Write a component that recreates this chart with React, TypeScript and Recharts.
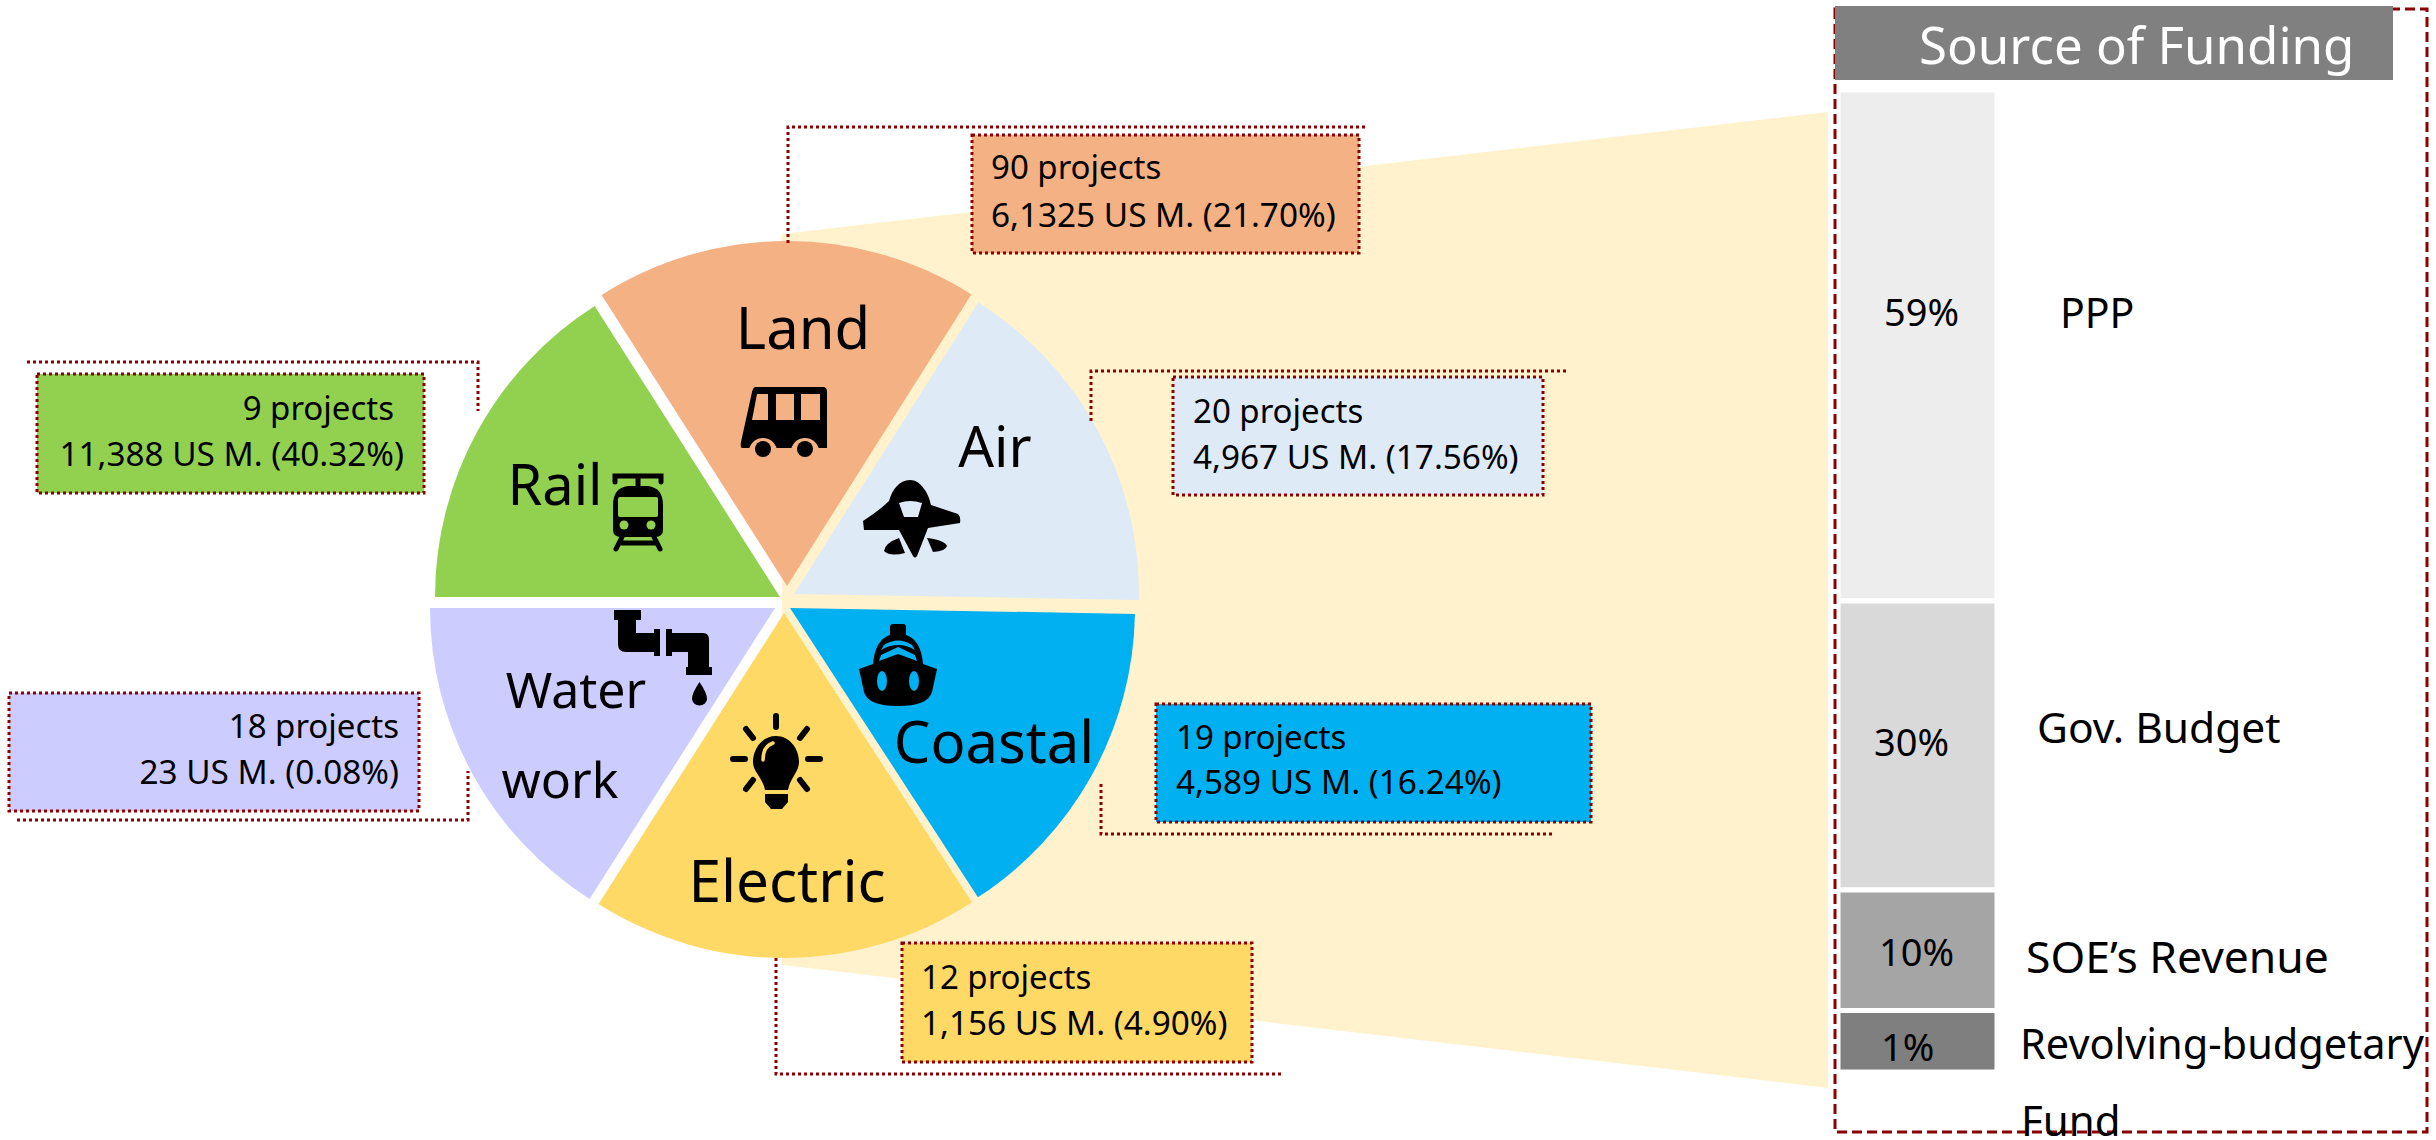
import { Bar, BarChart, Cell, Pie, PieChart, XAxis, YAxis } from 'recharts'

// Slices are drawn near-equal in the reference, whatever the amounts in the callouts say,
// so the pie is driven by the share of the circle each slice covers in the picture.
const SECTORS = ['Land', 'Rail', 'Water', 'Electric', 'Coastal', 'Air']
const SECTOR_SHARES = [18.0, 15.97, 15.97, 18.2, 15.56, 16.3]
const PROJECT_COUNTS = ['90 projects', '9 projects', '18 projects', '12 projects', '19 projects', '20 projects']
const AMOUNTS = [
  '6,1325 US M. (21.70%)',
  '11,388 US M. (40.32%)',
  '23 US M. (0.08%)',
  '1,156 US M. (4.90%)',
  '4,589 US M. (16.24%)',
  '4,967 US M. (17.56%)',
]

const FUNDING_SOURCES = ['PPP', 'Gov. Budget', 'SOE’s Revenue', 'Revolving-budgetary']
const FUNDING_PERCENT = ['59%', '30%', '10%', '1%']
// height share of each block in the picture (not to scale with the percent labels)
const FUNDING_SHARES = [52.04, 29.43, 12.27, 6.26]

const SECTOR_COLORS = ['#F4B183', '#92D050', '#CCCCFF', '#FFD966', '#00B0F0', '#DEEAF6']
const FUNDING_COLORS = ['#EDEDED', '#D9D9D9', '#A5A5A5', '#7F7F7F']
const RED = '#8B0000'
const FONT = '"Noto Sans", sans-serif'

const WIDTH = 2436
const HEIGHT = 1140

// exploded pie: each slice has its own apex
const APEX = [
  [787, 586],
  [780, 597],
  [775, 608],
  [784, 613],
  [790, 608],
  [794, 594],
]

const pieData = SECTORS.map((name, i) => ({ name, value: SECTOR_SHARES[i] }))
const fundingRow = [
  Object.fromEntries(FUNDING_SOURCES.map((name, i) => [name, FUNDING_SHARES[i]])),
]

// box: x, y, w, h; x/base: anchor x and baseline of each text line
const CALLOUTS = [
  { box: [972, 135, 387, 118], x: [991, 991], base: [179, 227], anchor: 'start', line: [788, 243, 788, 127, 1366, 127] },
  { box: [37, 374, 387, 119], x: [394, 404], base: [420, 466], anchor: 'end', line: [27, 362, 478, 362, 478, 411] },
  { box: [9, 693, 410, 118], x: [399, 399], base: [738, 784], anchor: 'end', line: [17, 820, 468, 820, 468, 771] },
  { box: [902, 943, 350, 119], x: [921, 921], base: [989, 1035], anchor: 'start', line: [776, 958, 776, 1074, 1283, 1074] },
  { box: [1156, 704, 435, 118], x: [1176, 1176], base: [749, 794], anchor: 'start', line: [1101, 784, 1101, 834, 1553, 834] },
  { box: [1173, 377, 370, 118], x: [1193, 1193], base: [423, 469], anchor: 'start', line: [1091, 421, 1091, 371, 1566, 371] },
]

const SLICE_LABELS = [
  { text: 'Land', x: 803, y: 349, size: 58 },
  { text: 'Rail', x: 555, y: 505, size: 56 },
  { text: 'Water', x: 576, y: 708, size: 50 },
  { text: 'work', x: 560, y: 798, size: 50 },
  { text: 'Electric', x: 787, y: 902, size: 58.5 },
  { text: 'Coastal', x: 994, y: 763, size: 58 },
  { text: 'Air', x: 995, y: 467, size: 56 },
]

function BusIcon() {
  const bg = SECTOR_COLORS[0]
  return (
    <g>
      <path d="M756 387H823Q827 387 827 392V448H742Q740 448 741 442L752 392Q753 387 756 387Z" fill="#000" />
      <path d="M757 394H768V420H752Z" fill={bg} />
      <rect x={776} y={394} width={18} height={26} fill={bg} />
      <rect x={801} y={394} width={19} height={26} fill={bg} />
      <circle cx={763} cy={452} r={14} fill={bg} />
      <circle cx={805} cy={452} r={14} fill={bg} />
      <circle cx={763} cy={449} r={8} fill="#000" />
      <circle cx={805} cy={449} r={8} fill="#000" />
    </g>
  )
}

function PlaneIcon() {
  return (
    <g>
      <path
        d="M910 480C921 480 929 494 931 505L958 514Q961 517 960 523L928 528L917 556Q915 559 913 556L899 530L864 530L863 521Q880 510 889 501C892 490 899 480 910 480Z"
        fill="#000"
      />
      <path d="M899 503Q910 499 922 503L918 517H904Z" fill={SECTOR_COLORS[5]} />
      <path d="M884 551Q885 543 899 538L905 553Q890 557 884 551Z" fill="#000" />
      <path d="M927 538Q944 540 947 546Q946 551 933 552Z" fill="#000" />
    </g>
  )
}

function TrainIcon() {
  const bg = SECTOR_COLORS[1]
  return (
    <g>
      <path d="M615 482V476H661V482M638 476V488" stroke="#000" strokeWidth={5} fill="none" strokeLinecap="round" />
      <path d="M628 486H648Q663 488 663 505V530Q663 537 655 537H621Q613 537 613 530V505Q613 488 628 486Z" fill="#000" />
      <rect x={618} y={497} width={40} height={20} rx={2} fill={bg} />
      <circle cx={624} cy={525} r={4.5} fill={bg} />
      <circle cx={651} cy={525} r={4.5} fill={bg} />
      <path d="M622 537L616 549M654 537L660 549M620 543H656" stroke="#000" strokeWidth={5} fill="none" strokeLinecap="round" />
    </g>
  )
}

function FaucetIcon() {
  return (
    <g fill="#000">
      <rect x={614} y={610} width={27} height={10} />
      <path d="M618 620H636V633H654V652H626Q618 652 618 644Z" />
      <rect x={654} y={629} width={6} height={27} />
      <rect x={666} y={629} width={6} height={27} />
      <path d="M672 633H703Q709 633 709 640V667H688V652H672Z" />
      <rect x={686} y={667} width={26} height={8} />
      <path d="M699.5 682Q707 693 707 699A7.5 6.5 0 0 1 692 699Q692 693 699.5 682Z" />
    </g>
  )
}

function ShipIcon() {
  const bg = SECTOR_COLORS[4]
  return (
    <g>
      <path d="M890 635V627Q890 624 893 624H903Q906 624 906 627V635Q921 640 923 664L937 669L932 692Q928 706 898 706Q868 706 864 692L859 669L873 664Q875 640 890 635Z" fill="#000" />
      <path d="M884 645Q898 636 912 645L915 650Q898 640 881 650Z" fill={bg} />
      <path d="M881 655L898 647L915 655L917 661L898 654L879 661Z" fill={bg} />
      <ellipse cx={882} cy={681} rx={5} ry={10} fill={bg} />
      <ellipse cx={914} cy={681} rx={5} ry={10} fill={bg} />
    </g>
  )
}

function BulbIcon() {
  return (
    <g>
      <path d="M776 736C790 736 799 749 799 762C799 772 790 778 788 790H765C763 778 753 772 753 762C753 749 762 736 776 736Z" fill="#000" />
      <path d="M763 760Q763 746 773 743" stroke={SECTOR_COLORS[3]} strokeWidth={3.5} fill="none" strokeLinecap="round" />
      <path d="M765 794H788V802L782 809H771L765 802Z" fill="#000" />
      <path
        d="M776 716V727M746 729L753 738M807 729L800 738M733 759H745M808 759H820M746 789L753 780M807 789L800 780"
        stroke="#000"
        strokeWidth={6}
        strokeLinecap="round"
      />
    </g>
  )
}

function pathFrom(points: number[]) {
  let d = `M${points[0]} ${points[1]}`
  for (let i = 2; i < points.length; i += 2) d += `L${points[i]} ${points[i + 1]}`
  return d
}

export default function App() {
  const layer = { position: 'absolute', left: 0, top: 0 } as const

  return (
    <div style={{ position: 'absolute', left: 0, top: 0, width: WIDTH, height: HEIGHT, background: '#fff', overflow: 'hidden' }}>
      {/* zoom wedge from the pie to the funding column */}
      <svg width={WIDTH} height={HEIGHT} style={layer}>
        <polygon points="782,234 1828,112 1828,1088 782,965" fill="#FFF2CC" />
        <rect x={1835} y={9} width={592} height={1123} fill="#fff" stroke={RED} strokeWidth={3} strokeDasharray="10 5" />
        <rect x={1835} y={6} width={558} height={74} fill="#808080" />
      </svg>

      <div style={layer}>
        <PieChart width={WIDTH} height={HEIGHT} margin={{ top: 0, right: 0, bottom: 0, left: 0 }}>
          {SECTORS.map((name, i) => (
            <Pie
              key={name}
              data={pieData}
              dataKey="value"
              nameKey="name"
              cx={APEX[i][0]}
              cy={APEX[i][1]}
              innerRadius={0}
              outerRadius={345}
              startAngle={57.7}
              endAngle={417.7}
              stroke="none"
              isAnimationActive={false}
            >
              {SECTORS.map((other, j) => (
                <Cell key={other} fill={i === j ? SECTOR_COLORS[i] : 'none'} />
              ))}
            </Pie>
          ))}
        </PieChart>
      </div>

      <div style={{ ...layer, left: 1838, top: 89.5 }}>
        <BarChart width={159} height={982} data={fundingRow} margin={{ top: 0, right: 0, bottom: 0, left: 0 }} barCategoryGap={0}>
          <XAxis type="category" hide />
          <YAxis type="number" hide reversed domain={[0, 100]} />
          {FUNDING_SOURCES.map((name, i) => (
            <Bar key={name} dataKey={name} stackId="funding" fill={FUNDING_COLORS[i]} stroke="#fff" strokeWidth={5} isAnimationActive={false} />
          ))}
        </BarChart>
      </div>

      <svg width={WIDTH} height={HEIGHT} style={{ ...layer, fontFamily: FONT }}>
        {CALLOUTS.map((c, i) => (
          <g key={SECTORS[i]}>
            <path d={pathFrom(c.line)} fill="none" stroke={RED} strokeWidth={3} strokeDasharray="3 3" />
            <rect x={c.box[0]} y={c.box[1]} width={c.box[2]} height={c.box[3]} fill={SECTOR_COLORS[i]} stroke={RED} strokeWidth={3} strokeDasharray="3 3" />
            <text x={c.x[0]} y={c.base[0]} textAnchor={c.anchor as 'start' | 'end'} fontSize={33}>
              {PROJECT_COUNTS[i]}
            </text>
            <text x={c.x[1]} y={c.base[1]} textAnchor={c.anchor as 'start' | 'end'} fontSize={33.3}>
              {AMOUNTS[i]}
            </text>
          </g>
        ))}

        {SLICE_LABELS.map((l) => (
          <text key={l.text} x={l.x} y={l.y} textAnchor="middle" fontSize={l.size}>
            {l.text}
          </text>
        ))}

        <BusIcon />
        <PlaneIcon />
        <TrainIcon />
        <FaucetIcon />
        <ShipIcon />
        <BulbIcon />

        <text x={1919} y={64} fontSize={51} fill="#fff">
          Source of Funding
        </text>

        <text x={1884} y={326} fontSize={38}>{FUNDING_PERCENT[0]}</text>
        <text x={1874} y={756} fontSize={38}>{FUNDING_PERCENT[1]}</text>
        <text x={1879} y={966} fontSize={38}>{FUNDING_PERCENT[2]}</text>
        <text x={1881} y={1061} fontSize={38}>{FUNDING_PERCENT[3]}</text>

        <text x={2060} y={328} fontSize={41}>{FUNDING_SOURCES[0]}</text>
        <text x={2037} y={743} fontSize={42.5}>{FUNDING_SOURCES[1]}</text>
        <text x={2026} y={973} fontSize={44.5}>{FUNDING_SOURCES[2]}</text>
        <text x={2020} y={1059} fontSize={41.5}>{FUNDING_SOURCES[3]}</text>
        <text x={2021} y={1136} fontSize={42}>Fund</text>
      </svg>
    </div>
  )
}
